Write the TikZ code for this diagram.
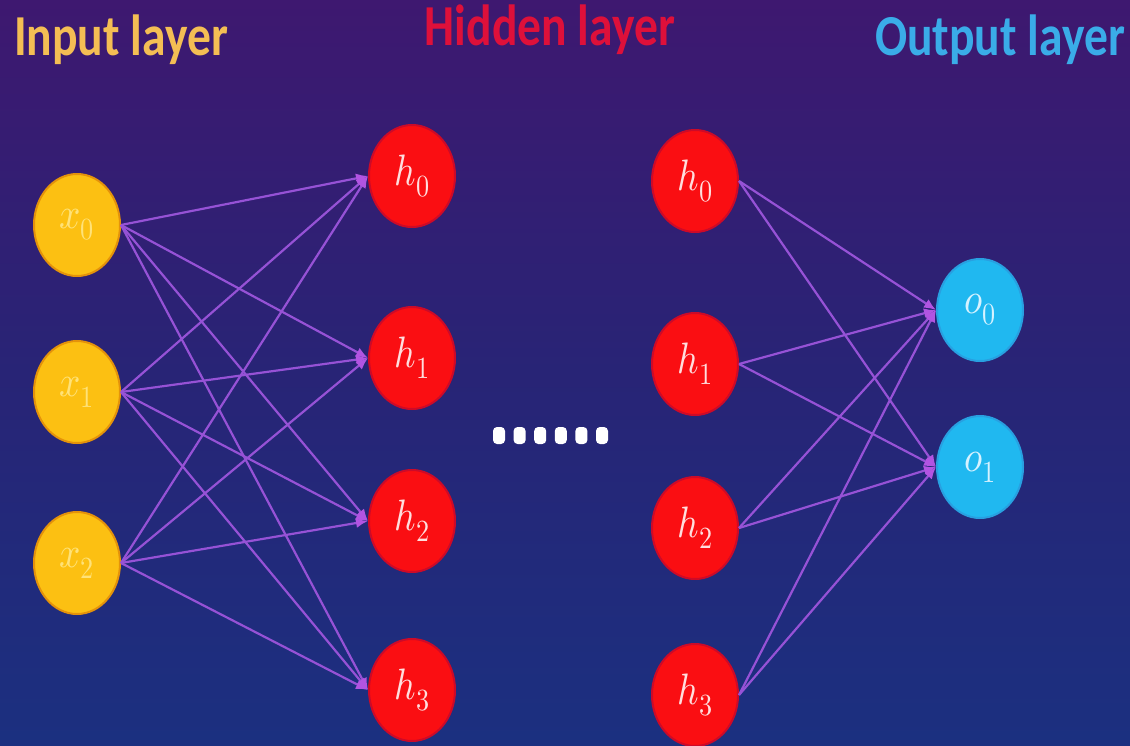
\documentclass[tikz,border=0pt]{standalone}
\usepackage{fontspec}
\usepackage{unicode-math}
\setmathfont{Latin Modern Math}
\newfontfamily\titlefont{Carlito}
\usetikzlibrary{shapes.geometric,arrows.meta}

\definecolor{bgtop}{RGB}{62,24,112}
\definecolor{bgmid}{RGB}{40,36,118}
\definecolor{bgbot}{RGB}{27,48,128}
\definecolor{inyellow}{RGB}{252,192,18}
\definecolor{inrim}{RGB}{228,146,10}
\definecolor{inlabel}{RGB}{255,226,120}
\definecolor{hidred}{RGB}{250,14,18}
\definecolor{hidrim}{RGB}{205,10,40}
\definecolor{hidlabel}{RGB}{255,222,222}
\definecolor{outblue}{RGB}{32,184,240}
\definecolor{outrim}{RGB}{40,160,225}
\definecolor{outlabel}{RGB}{214,242,255}
\definecolor{linkviolet}{RGB}{150,82,214}
\definecolor{tipviolet}{RGB}{178,84,226}
\definecolor{titleyellow}{RGB}{244,190,84}
\definecolor{titlered}{RGB}{222,16,58}
\definecolor{titleblue}{RGB}{58,172,232}

\newcommand{\neuronlabel}[1]{\scalebox{0.85}[1]{\fontsize{44}{48}\selectfont$#1$}}
\newcommand{\layertitle}[1]{\scalebox{0.82}[1]{\titlefont\bfseries\fontsize{58}{62}\selectfont #1}}

\tikzset{
  neuron/.style={ellipse, minimum width=86pt, minimum height=102pt, inner sep=0pt, line width=2pt},
  inneuron/.style={neuron, fill=inyellow, draw=inrim, text=inlabel},
  hidneuron/.style={neuron, fill=hidred, draw=hidrim, text=hidlabel},
  outneuron/.style={neuron, fill=outblue, draw=outrim, text=outlabel},
  link/.style={draw=linkviolet, line width=2.2pt,
    -{Latex[length=12pt,width=10pt,color=tipviolet]}},
  layername/.style={anchor=base, inner sep=0pt},
  dotmark/.style={fill=white, rounded corners=4pt}
}

\begin{document}
\begin{tikzpicture}[x=1pt,y=-1pt]
  % background
  \shade[top color=bgtop, bottom color=bgbot, middle color=bgmid] (0,0) rectangle (1130,745);
  \useasboundingbox (0,0) rectangle (1130,745);

  % layer titles
  \node[layername, text=titleyellow] (tin)  at (121,55) {\layertitle{Input layer}};
  \node[layername, text=titlered]    (thid) at (550,45) {\layertitle{Hidden layer}};
  \node[layername, text=titleblue]   (tout) at (1000,55) {\layertitle{Output layer}};

  % input layer
  \node[inneuron] (x0) at (77,225) {\neuronlabel{x_0}};
  \node[inneuron] (x1) at (77,392) {\neuronlabel{x_1}};
  \node[inneuron] (x2) at (77,563) {\neuronlabel{x_2}};

  % first hidden layer
  \node[hidneuron] (a0) at (412,176) {\neuronlabel{h_0}};
  \node[hidneuron] (a1) at (412,358) {\neuronlabel{h_1}};
  \node[hidneuron] (a2) at (412,521) {\neuronlabel{h_2}};
  \node[hidneuron] (a3) at (412,690) {\neuronlabel{h_3}};

  % last hidden layer
  \node[hidneuron] (b0) at (695,181) {\neuronlabel{h_0}};
  \node[hidneuron] (b1) at (695,364) {\neuronlabel{h_1}};
  \node[hidneuron] (b2) at (695,528) {\neuronlabel{h_2}};
  \node[hidneuron] (b3) at (695,695) {\neuronlabel{h_3}};

  % output layer
  \node[outneuron] (o0) at (980,310) {\neuronlabel{o_0}};
  \node[outneuron] (o1) at (980,467) {\neuronlabel{o_1}};

  % ellipsis between the hidden layers
  \foreach \i in {0,...,5}
    \fill[dotmark] ({493+20.6*\i},427) rectangle ++(12,17);

  % input -> hidden connections
  \foreach \i in {0,1,2}
    \foreach \j in {0,...,3}
      \draw[link] (x\i.east) -- (a\j.west);

  % hidden -> output connections
  \foreach \j in {0,...,3}
    \foreach \k in {0,1}
      \draw[link] (b\j.east) -- (o\k.west);
\end{tikzpicture}
\end{document}
